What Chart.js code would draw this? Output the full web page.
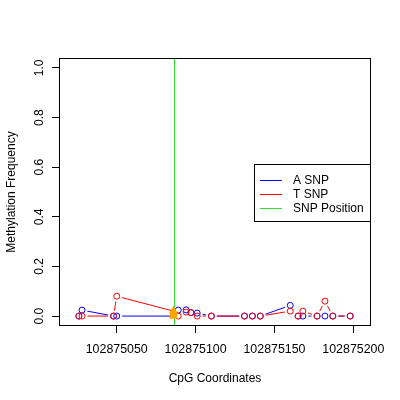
<!DOCTYPE html>
<html><head><meta charset="utf-8">
<script src="https://cdn.jsdelivr.net/npm/chart.js@4.4.0/dist/chart.umd.min.js"></script>
<style>html,body{margin:0;padding:0;background:#fff;}canvas{display:block;}</style>
</head><body>
<canvas id="c" width="400" height="400"></canvas>
<script>
// ---- data ----
const positions = [102875026, 102875028, 102875048, 102875050, 102875086, 102875089, 102875094, 102875097, 102875101, 102875110, 102875131, 102875136, 102875141, 102875160, 102875165, 102875168, 102875177, 102875182, 102875187, 102875198];
const aSnp = [0, 0.024, 0, 0, 0, 0.024, 0.025, 0.014, 0.012, 0, 0, 0, 0, 0.043, 0, 0, 0, 0, 0, 0];
const tSnp = [0, 0, 0, 0.08, 0.02, 0, 0.016, 0.014, 0, 0, 0, 0, 0, 0.02, 0, 0.02, 0, 0.06, 0, 0];
const snpPosition = 102875086;
const snpValues = [0, 0.01, 0.02];
const xTicks = [102875050, 102875100, 102875150, 102875200];
const yTicks = [0, 0.2, 0.4, 0.6, 0.8, 1.0];
const xRange = [102875013.4, 102875211.2];
const yRange = [-0.04, 1.04];
const seriesNames = ['A SNP', 'T SNP', 'SNP Position'];
const seriesColors = ['#0000FF', '#FF0000', '#00FF00'];
const snpMarkColor = '#FFA500';

const FONT = 'Liberation Sans, Arial, Helvetica, sans-serif';
Chart.defaults.font.family = FONT;
Chart.defaults.font.size = 12;
Chart.defaults.color = '#000';

const pts = vals => positions.map((x, i) => ({x, y: vals[i]}));
const circleRadius = c => positions[c.dataIndex] === snpPosition ? 0 : 3;

// R type="b": gaps in the connecting lines around each point
const gapPlugin = {
  id: 'gaps',
  afterDatasetDraw(chart, args) {
    const ds = chart.data.datasets[args.index];
    if (!ds.gapRadius) return;
    const ctx = chart.ctx;
    ctx.save();
    ctx.globalCompositeOperation = 'destination-out';
    args.meta.data.forEach((el, i) => {
      if (positions[i] === snpPosition) return;
      ctx.beginPath();
      ctx.arc(el.x, el.y, ds.gapRadius, 0, Math.PI * 2);
      ctx.fill();
    });
    ctx.restore();
  }
};

const frameLegendPlugin = {
  id: 'frameLegend',
  afterDraw(chart) {
    const ctx = chart.ctx;
    const {left, right, top, bottom} = chart.chartArea;
    ctx.save();
    ctx.globalCompositeOperation = 'source-over';
    ctx.globalAlpha = 1;
    // SNP position line
    const xs = chart.scales.x, ys = chart.scales.y;
    const px = Math.round(xs.getPixelForValue(snpPosition)) + 0.5;
    ctx.strokeStyle = '#33DD33';
    ctx.lineWidth = 1;
    ctx.beginPath();
    ctx.moveTo(px, ys.getPixelForValue(yRange[1]));
    ctx.lineTo(px, ys.getPixelForValue(yRange[0]));
    ctx.stroke();
    // SNP markers on top of the line
    const tri = chart.getDatasetMeta(4);
    ctx.fillStyle = snpMarkColor;
    tri.data.forEach(el => {
      const r = 5;
      ctx.beginPath();
      ctx.moveTo(el.x, el.y - r);
      ctx.lineTo(el.x + r * 0.866, el.y + r * 0.5);
      ctx.lineTo(el.x - r * 0.866, el.y + r * 0.5);
      ctx.closePath();
      ctx.fill();
    });
    // frame
    ctx.strokeStyle = '#000';
    ctx.strokeRect(left + 0.5, top + 0.5, right - left - 1, bottom - top - 1);
    // legend (R "right" position)
    const w = 116, h = 57;
    const bx = right - w - 1, by = Math.round((top + bottom) / 2 - h / 2);
    ctx.fillStyle = '#fff';
    ctx.fillRect(bx, by, w, h);
    ctx.strokeRect(bx + 0.5, by + 0.5, w, h);
    ctx.font = '12px ' + FONT;
    ctx.textBaseline = 'middle';
    ctx.textAlign = 'left';
    seriesNames.forEach((name, i) => {
      const y = Math.round(by + 15.5 + i * 14.2) + 0.5;
      ctx.strokeStyle = i === 2 ? '#33DD33' : seriesColors[i];
      ctx.beginPath();
      ctx.moveTo(bx + 6, y);
      ctx.lineTo(bx + 28, y);
      ctx.stroke();
      ctx.fillStyle = '#000';
      ctx.fillText(name, bx + 39, y);
    });
    ctx.restore();
  }
};

const axisCommon = {
  type: 'linear',
  grid: {drawOnChartArea: false, drawTicks: true, tickLength: 7, color: '#000', lineWidth: 1},
  border: {display: false},
};

new Chart(document.getElementById('c'), {
  type: 'scatter',
  data: {
    datasets: [
      {label: seriesNames[0] + ' line', data: pts(aSnp), showLine: true, borderColor: seriesColors[0], borderWidth: 1, pointRadius: 0, gapRadius: 5.5, order: 6},
      {label: seriesNames[1] + ' line', data: pts(tSnp), showLine: true, borderColor: seriesColors[1], borderWidth: 1, pointRadius: 0, gapRadius: 5.5, order: 5},
      {label: seriesNames[0], data: pts(aSnp), showLine: false, pointStyle: 'circle', pointRadius: circleRadius, borderColor: seriesColors[0], pointBorderColor: seriesColors[0], pointBackgroundColor: 'rgba(0,0,0,0)', pointBorderWidth: 1, order: 3},
      {label: seriesNames[1], data: pts(tSnp), showLine: false, pointStyle: 'circle', pointRadius: circleRadius, borderColor: seriesColors[1], pointBorderColor: seriesColors[1], pointBackgroundColor: 'rgba(0,0,0,0)', pointBorderWidth: 1, order: 2},
      {label: 'SNP', data: snpValues.map(v => ({x: snpPosition, y: v})), showLine: false, pointStyle: 'triangle', pointRadius: 5, pointBackgroundColor: snpMarkColor, pointBorderColor: snpMarkColor, pointBorderWidth: 0, order: 1}
    ]
  },
  options: {
    responsive: false,
    animation: false,
    devicePixelRatio: 1,
    layout: {padding: {top: 58, right: 29, bottom: 0, left: 0}},
    plugins: {legend: {display: false}, tooltip: {enabled: false}},
    scales: {
      x: Object.assign({}, axisCommon, {
        min: xRange[0], max: xRange[1],
        afterBuildTicks: s => { s.ticks = xTicks.map(v => ({value: v})); },
        afterFit: s => { s.height = 74; },
        ticks: {autoSkip: false, minRotation: 0, maxRotation: 0, padding: 9, color: '#000', font: {size: 12.4}, callback: v => String(v)},
        title: {display: true, text: 'CpG Coordinates', color: '#000', font: {size: 12}, padding: {top: 0, bottom: 14}}
      }),
      y: Object.assign({}, axisCommon, {
        min: yRange[0], max: yRange[1],
        afterBuildTicks: s => { s.ticks = yTicks.map(v => ({value: v})); },
        afterFit: s => { s.width = 59; },
        ticks: {autoSkip: false, minRotation: 90, maxRotation: 90, crossAlign: 'center', padding: 4, color: '#000', font: {size: 12}, callback: v => Number(v).toFixed(1)},
        title: {display: true, text: 'Methylation Frequency', color: '#000', font: {size: 12}, padding: {top: 4, bottom: 0}}
      })
    }
  },
  plugins: [gapPlugin, frameLegendPlugin]
});
</script>
</body></html>
